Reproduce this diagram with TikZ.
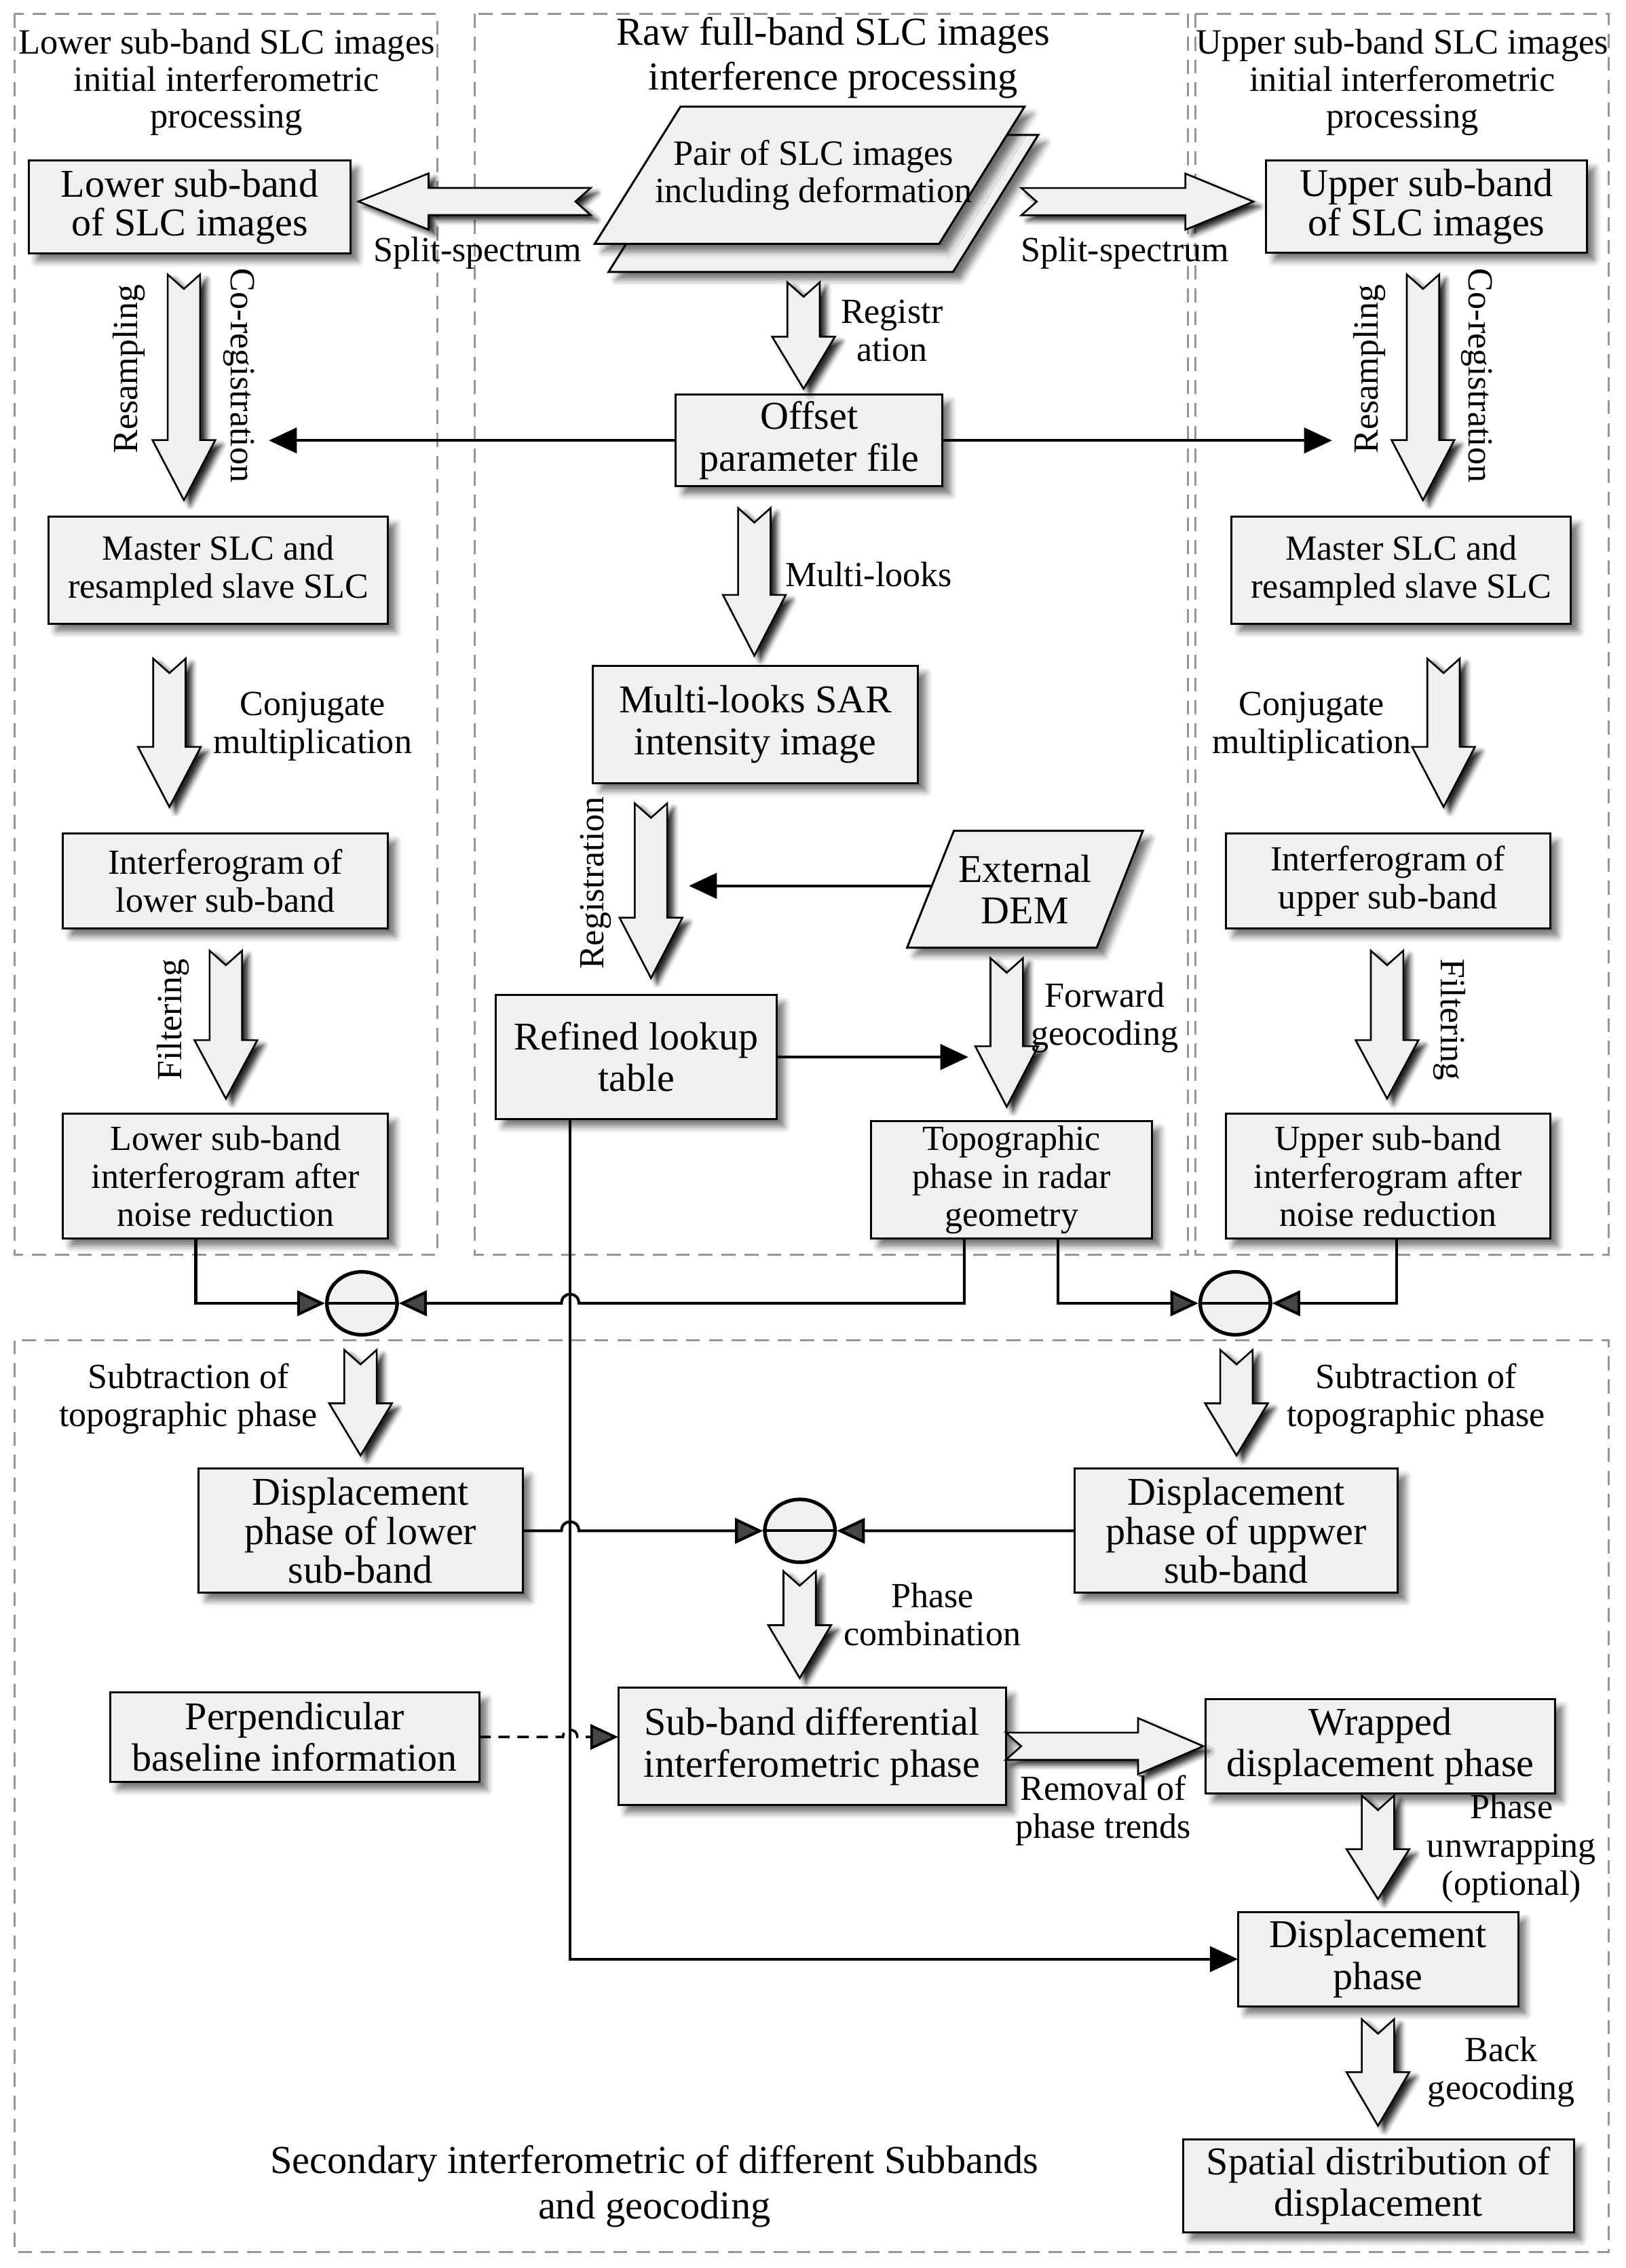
\documentclass[tikz,border=0pt]{standalone}
\usepackage{fontspec}
\setmainfont{Liberation Serif}
\usetikzlibrary{arrows.meta,shapes.geometric,shadows.blur}
\definecolor{boxfill}{RGB}{239,241,241}
\definecolor{framegray}{RGB}{150,150,150}
% down block arrow: centre x, top y, tip y, head length
\newcommand\dnarr[4]{\draw[barrow] ({#1-11.2},#2) -- (#1,{#2+10}) -- ({#1+11.2},#2) -- ({#1+11.2},{#3-#4}) -- ({#1+21.7},{#3-#4}) -- (#1,#3) -- ({#1-21.7},{#3-#4}) -- ({#1-11.2},{#3-#4}) -- cycle;}
% right block arrow: centre y, tail x, tip x, head length
\newcommand\rtarr[4]{\draw[barrow] (#2,{#1-9.4}) -- ({#3-#4},{#1-9.4}) -- ({#3-#4},{#1-19.4}) -- (#3,#1) -- ({#3-#4},{#1+19.4}) -- ({#3-#4},{#1+9.4}) -- (#2,{#1+9.4}) -- ({#2+10.6},#1) -- cycle;}
% left block arrow
\newcommand\ltarr[4]{\draw[barrow] (#2,{#1-9.4}) -- ({#3+#4},{#1-9.4}) -- ({#3+#4},{#1-19.4}) -- (#3,#1) -- ({#3+#4},{#1+19.4}) -- ({#3+#4},{#1+9.4}) -- (#2,{#1+9.4}) -- ({#2-10.6},#1) -- cycle;}
% box node: name, style, x1, y1, x2, y2, text
\newcommand\bx[7]{\node[box,#2,minimum width={(#5-#3)*0.02cm},minimum height={(#6-#4)*0.02cm}] (#1) at ({(#3+#5)/2},{(#4+#6)/2}) {#7};}
\begin{document}
\begin{tikzpicture}[x=0.02cm,y=-0.02cm,
  box/.style={draw=black, line width=0.8pt, fill=boxfill, inner sep=0pt, outer sep=0pt, align=center,
    blur shadow={shadow xshift=3pt, shadow yshift=-3pt, shadow opacity=55, shadow blur radius=2.5pt}},
  para/.style={draw=black, line width=0.8pt, fill=boxfill, line join=miter,
    blur shadow={shadow xshift=3pt, shadow yshift=-3pt, shadow opacity=55, shadow blur radius=2.5pt}},
  bigt/.style={font=\fontsize{15.5}{16.4}\selectfont},
  bigtt/.style={font=\fontsize{15.5}{15.4}\selectfont},
  smallt/.style={font=\fontsize{13.9}{14.9}\selectfont},
  lbl/.style={font=\fontsize{13.9}{15}\selectfont, align=center, inner sep=0pt},
  ttl/.style={font=\fontsize{14}{14.5}\selectfont, align=center, inner sep=0pt},
  mttl/.style={font=\fontsize{15.6}{17.7}\selectfont, align=center, inner sep=0pt},
  conn/.style={line width=1.1pt, line join=miter},
  endtri/.style={-{Triangle[length=11pt,width=10pt]}},
  frame/.style={draw=framegray, line width=0.8pt, dash pattern=on 5.5pt off 3.5pt},
  barrow/.style={draw=black, line width=0.7pt, fill=boxfill, line join=miter,
    blur shadow={shadow xshift=2.5pt, shadow yshift=-2pt, shadow opacity=85, shadow blur radius=2pt}},
  sumc/.style={ellipse, draw=black, line width=1.4pt, fill=boxfill, minimum width=0.97cm, minimum height=0.87cm, inner sep=0pt}
]
\useasboundingbox (0,0) rectangle (1123,1566.9);

% ---------- frames ----------
\draw[frame] (10,9.5) rectangle (302,867);
\draw[frame] (328,9.5) rectangle (820.7,867);
\draw[frame] (825.8,9.5) rectangle (1111,867);
\draw[frame] (10,926) rectangle (1111,1556);

% ---------- titles ----------
\node[ttl] (tleft) at (156.5,57) {Lower sub-band SLC images\\initial interferometric\\processing};
\node[mttl] (tmid) at (575.5,40) {Raw full-band SLC images\\interference processing};
\node[ttl] (tright) at (968.5,57) {Upper sub-band SLC images\\initial interferometric\\processing};
\node[mttl] (tbot) at (452,1510.5) {Secondary interferometric of different Subbands\\and geocoding};

% ---------- coordinates for free connector ends ----------
\coordinate (offL) at (185.7,304.3);
\coordinate (offR) at (920,304.3);
\coordinate (demL) at (643.6,612);
\coordinate (regin) at (475.8,612);
\coordinate (fwdin) at (668.8,730.25);
\coordinate (j1) at (135.2,900.4);
\coordinate (j2) at (666,900.4);
\coordinate (j3) at (730.7,900.4);
\coordinate (j4) at (964.6,900.4);
\coordinate (vj) at (393.8,1353.5);

% ---------- boxes ----------
\bx{lsb}{bigtt}{20}{111}{242}{175}{Lower sub-band\\of SLC images}
\bx{usb}{bigtt}{874.6}{111}{1096}{174.5}{Upper sub-band\\of SLC images}
\bx{off}{bigt}{466.7}{272.6}{651}{336}{Offset\\parameter file}
\bx{ms1}{smallt}{33.4}{357}{268}{431}{Master SLC and\\resampled slave SLC}
\bx{ms2}{smallt}{850.7}{357}{1085}{431}{Master SLC and\\resampled slave SLC}
\bx{ml}{bigt}{409.6}{460}{634}{541}{Multi-looks SAR\\intensity image}
\bx{if1}{smallt}{43.4}{576}{268}{641.5}{Interferogram of\\lower sub-band}
\bx{if2}{smallt}{846.6}{576}{1070.7}{641.5}{Interferogram of\\upper sub-band}
\bx{rlt}{bigt}{342.5}{687.5}{536.4}{773}{Refined lookup\\table}

% connectors (under boxes)
\draw[conn,endtri] (off.west) -- (offL);
\draw[conn,endtri] (off.east) -- (offR);
\draw[conn,endtri] (demL) -- (regin);
\draw[conn,endtri] (rlt.east) -- (fwdin);
\draw[conn,endtri] (rlt.south -| vj) -- (vj) -- (855,1353.5);

\bx{f1}{smallt}{43.4}{769.5}{268}{855.5}{Lower sub-band\\interferogram after\\noise reduction}
\bx{topo}{smallt}{601.6}{774.6}{795.8}{855.6}{Topographic\\phase in radar\\geometry}
\bx{f2}{smallt}{846.6}{769.5}{1070.7}{855.5}{Upper sub-band\\interferogram after\\noise reduction}
\bx{d1}{bigtt}{137}{1014.7}{361}{1100.4}{Displacement\\phase of lower\\sub-band}
\bx{d2}{bigtt}{742}{1014.7}{965.5}{1100.4}{Displacement\\phase of uppwer\\sub-band}
\bx{perp}{bigt}{76}{1169}{331}{1231}{Perpendicular\\baseline information}
\bx{sb}{bigt}{427}{1166}{694.7}{1247}{Sub-band differential\\interferometric phase}
\bx{wr}{bigt}{832.7}{1174}{1074}{1239}{Wrapped\\displacement phase}
\bx{dp}{bigt}{855}{1321}{1048.5}{1386}{Displacement\\phase}
\bx{sd}{bigt}{817}{1478}{1087}{1542.3}{Spatial distribution of\\displacement}

% ---------- parallelograms ----------
\draw[para] (420.3,187.9) -- (658.2,187.9) -- (717.1,93.2) -- (479.5,93.2) -- cycle;
\draw[para] (410.8,168.4) -- (648.7,168.4) -- (707.6,73.7) -- (470,73.7) -- cycle;
\node[lbl, font=\fontsize{14}{14.6}\selectfont] (pair) at (562,121) {Pair of SLC images\\including deformation};
\draw[para] (626.5,654.7) -- (757.5,654.7) -- (789.3,574) -- (658.8,574) -- cycle;
\node[lbl, bigt] (dem) at (708,614.5) {External\\DEM};

% ---------- summation circles ----------
\node[sumc] (c1) at (250,900.4) {};
\node[sumc] (c2) at (853.2,900.4) {};
\node[sumc] (c3) at (552.5,1057.6) {};
\draw[line width=1.1pt] (c1.west) -- (c1.east);
\draw[line width=1.1pt] (c2.west) -- (c2.east);
\draw[line width=1.1pt] (c3.west) -- (c3.east);

\draw[conn,endtri] (f1.south -| j1) -- (j1) -- (c1.west);
\draw[conn,endtri] (topo.south -| j2) -- (j2) -- (399.8,900.4) .. controls (399.8,892) and (387.8,892) .. (387.8,900.4) -- (c1.east);
\draw[conn,endtri] (topo.south -| j3) -- (j3) -- (c2.west);
\draw[conn,endtri] (f2.south -| j4) -- (j4) -- (c2.east);
\draw[conn,endtri] (d1.east) -- (387.8,1057.6) .. controls (387.8,1049.2) and (399.8,1049.2) .. (399.8,1057.6) -- (c3.west);
\draw[conn,endtri] (d2.west) -- (c3.east);
\draw[line width=1pt, dash pattern=on 4.5pt off 3pt, endtri] (perp.east) -- (388.8,1200) .. controls (388.8,1193.5) and (398.8,1193.5) .. (398.8,1200) -- (perp.east -| sb.west);

% ---------- block arrows ----------
\ltarr{139.2}{408}{247.5}{48.5}
\rtarr{139.3}{705.4}{865.7}{47}
\dnarr{127}{189.6}{345.5}{41.5}
\dnarr{982.8}{189.6}{345.5}{41.5}
\dnarr{555}{195}{268.6}{36}
\dnarr{521}{351}{453}{42}
\dnarr{117}{455}{557.5}{41.5}
\dnarr{997}{455}{557.5}{41.5}
\dnarr{449.6}{555}{675.7}{41.7}
\dnarr{156}{656.8}{759}{40.4}
\dnarr{958}{656.8}{759}{40.4}
\dnarr{695.3}{662}{764.6}{41.8}
\dnarr{249}{932.6}{1005.5}{36}
\dnarr{854}{932.6}{1005.5}{36}
\dnarr{552.3}{1085.5}{1159.3}{36.5}
\rtarr{1206.4}{694.7}{831}{45}
\dnarr{951.7}{1240.5}{1312}{34.5}
\dnarr{951.7}{1395}{1468.6}{37}

% ---------- labels ----------
\node[lbl] (ss1) at (330,175) {Split-spectrum};
\node[lbl] (ss2) at (777,175) {Split-spectrum};
\node[lbl] (lreg) at (616,228.6) {Registr\\ation};
\node[lbl, rotate=90] (lres1) at (89,255) {Resampling};
\node[lbl, rotate=-90] (lcor1) at (165,259.5) {Co-registration};
\node[lbl, rotate=90] (lres2) at (946,255) {Resampling};
\node[lbl, rotate=-90] (lcor2) at (1020,259.5) {Co-registration};
\node[lbl] (lml) at (600,397) {Multi-looks};
\node[lbl] (lcj1) at (216,502) {Conjugate\\multiplication};
\node[lbl] (lcj2) at (906,502) {Conjugate\\multiplication};
\node[lbl, rotate=90] (lreg2) at (411.5,610) {Registration};
\node[lbl, rotate=90] (lfil1) at (119.5,704.5) {Filtering};
\node[lbl, rotate=-90] (lfil2) at (1001,704.5) {Filtering};
\node[lbl] (lfwd) at (763,703) {Forward\\geocoding};
\node[lbl] (lsub1) at (130,966.4) {Subtraction of\\topographic phase};
\node[lbl] (lsub2) at (978,966.4) {Subtraction of\\topographic phase};
\node[lbl] (lpc) at (644,1115.5) {Phase\\combination};
\node[lbl] (lrm) at (762,1251) {Removal of\\phase trends};
\node[lbl] (lpu) at (1044,1277) {Phase\\unwrapping\\(optional)};
\node[lbl] (lbg) at (1037,1431.5) {Back\\geocoding};
\end{tikzpicture}
\end{document}
